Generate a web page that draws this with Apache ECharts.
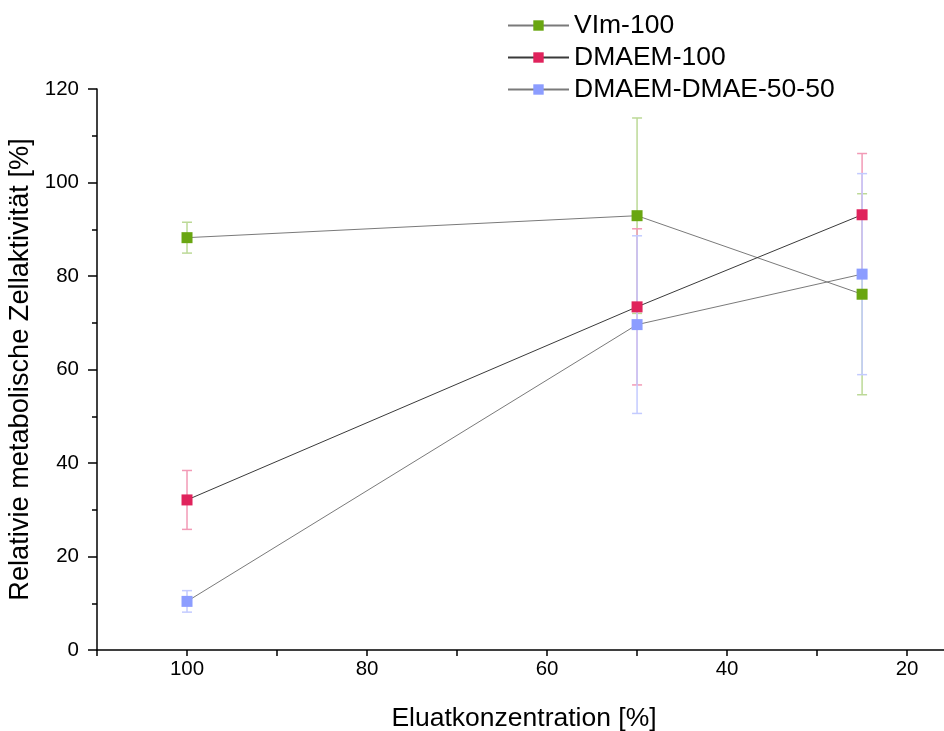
<!DOCTYPE html>
<html>
<head>
<meta charset="utf-8">
<script src="https://cdn.jsdelivr.net/npm/echarts@6/dist/echarts.min.js"></script>
<style>
  html, body { margin: 0; padding: 0; background: #fff; }
  #chart { width: 944px; height: 731px; }
</style>
</head>
<body>
<div id="chart"></div>
<script>
// Eluate concentrations (%) and mean relative metabolic activity with standard deviations
const concentrations = [100, 50, 25];

const seriesNames = ['VIm-100', 'DMAEM-100', 'DMAEM-DMAE-50-50'];

const vim100 = [88.2, 92.9, 76.1];
const vim100Err = [3.3, 20.9, 21.5];

const dmaem100 = [32.1, 73.4, 93.1];
const dmaem100Err = [6.3, 16.7, 13.1];

const dmaemDmae = [10.4, 69.6, 80.4];
const dmaemDmaeErr = [2.3, 19.0, 21.5];

const yTicks = [0, 20, 40, 60, 80, 100, 120];
const xTickValues = [110, 100, 90, 80, 70, 60, 50, 40, 30, 20];
const xTickLabels = [100, 80, 60, 40, 20];

const markerColors = ['#69a611', '#e0235c', '#8c9dff'];
const errorColors = ['#bcd997', '#f29ab6', '#c3cbff'];
const lineColors = ['#7a7a7a', '#3a3a3a', '#7a7a7a'];

const FONT = 'Liberation Sans, Arial, sans-serif';

const chart = echarts.init(document.getElementById('chart'));

function toPairs(values) {
  return concentrations.map((x, i) => [x, values[i]]);
}

function errorData(values, errs) {
  return concentrations.map((x, i) => [x, values[i] - errs[i], values[i] + errs[i]]);
}

function errorSeries(name, values, errs, color) {
  return {
    type: 'custom',
    name: name,
    z: 1,
    silent: true,
    data: errorData(values, errs),
    encode: { x: 0, y: [1, 2] },
    renderItem: function (params, api) {
      const x = api.value(0);
      const lo = api.coord([x, api.value(1)]);
      const hi = api.coord([x, api.value(2)]);
      const half = 5;
      const style = { stroke: color, lineWidth: 1.5, fill: null };
      return {
        type: 'group',
        children: [
          { type: 'line', shape: { x1: lo[0], y1: lo[1], x2: hi[0], y2: hi[1] }, style: style },
          { type: 'line', shape: { x1: hi[0] - half, y1: hi[1], x2: hi[0] + half, y2: hi[1] }, style: style },
          { type: 'line', shape: { x1: lo[0] - half, y1: lo[1], x2: lo[0] + half, y2: lo[1] }, style: style }
        ]
      };
    }
  };
}

function lineSeries(idx, values) {
  return {
    type: 'line',
    name: seriesNames[idx],
    z: 3,
    data: toPairs(values),
    symbol: 'rect',
    symbolSize: 11,
    showAllSymbol: true,
    lineStyle: { color: lineColors[idx], width: 1 },
    itemStyle: { color: markerColors[idx] },
    emphasis: { disabled: true },
    animation: false
  };
}

const option = {
  animation: false,
  backgroundColor: '#fff',
  legend: {
    data: seriesNames,
    orient: 'vertical',
    left: 502,
    top: 7,
    itemWidth: 61,
    itemHeight: 13,
    itemGap: 5,
    textStyle: { fontFamily: FONT, fontSize: 26.5, lineHeight: 27, color: '#000' }
  },
  grid: {
    left: 97,
    right: 0,
    top: 89,
    bottom: 81,
    containLabel: false,
    outerBoundsMode: 'none'
  },
  xAxis: {
    type: 'value',
    inverse: true,
    min: 15.9,
    max: 110,
    name: 'Eluatkonzentration [%]',
    nameLocation: 'middle',
    nameGap: 55,
    nameTextStyle: { fontFamily: FONT, fontSize: 26.5, color: '#000', padding: [0, 0, 0, 7] },
    axisLine: { show: true, onZero: false, lineStyle: { color: '#000', width: 1.5 } },
    axisTick: { show: true, inside: false, length: 6, customValues: xTickValues, lineStyle: { color: '#000', width: 1.5 } },
    axisLabel: {
      fontFamily: FONT,
      fontSize: 20.5,
      color: '#000',
      margin: 9,
      customValues: xTickLabels
    },
    splitLine: { show: false }
  },
  yAxis: {
    type: 'value',
    min: yTicks[0],
    max: yTicks[yTicks.length - 1],
    interval: 20,
    name: 'Relativie metabolische Zellaktivität [%]',
    nameLocation: 'middle',
    nameGap: 58,
    nameTextStyle: { fontFamily: FONT, fontSize: 27.2, color: '#000' },
    axisLine: { show: true, lineStyle: { color: '#000', width: 1.5 } },
    axisTick: { show: true, inside: false, length: 9, lineStyle: { color: '#000', width: 1.5 } },
    minorTick: { show: true, splitNumber: 2, length: 5, lineStyle: { color: '#000', width: 1.5 } },
    axisLabel: { fontFamily: FONT, fontSize: 20.5, color: '#000', margin: 18 },
    splitLine: { show: false },
    minorSplitLine: { show: false }
  },
  series: [
    errorSeries('VIm-100-err', vim100, vim100Err, errorColors[0]),
    errorSeries('DMAEM-100-err', dmaem100, dmaem100Err, errorColors[1]),
    errorSeries('DMAEM-DMAE-50-50-err', dmaemDmae, dmaemDmaeErr, errorColors[2]),
    lineSeries(0, vim100),
    lineSeries(1, dmaem100),
    lineSeries(2, dmaemDmae)
  ]
};

chart.setOption(option);
</script>
</body>
</html>
